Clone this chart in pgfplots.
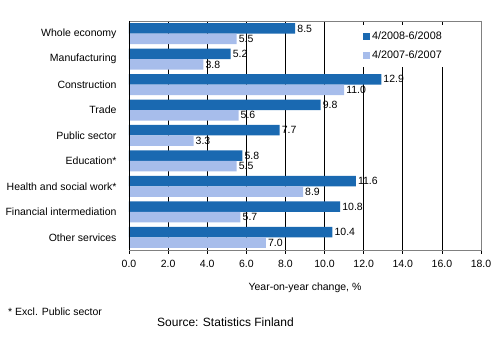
\documentclass[border=0pt]{standalone}
\usepackage{fontspec}
\setmainfont{Liberation Sans}
\usepackage{pgfplots}
\pgfplotsset{compat=1.18}
\definecolor{darkbar}{HTML}{1A69B1}
\definecolor{lightbar}{HTML}{A7BDEB}
\pgfplotsset{sqlegend/.style={legend image code/.code={\fill[##1] (0pt,-3.5pt) rectangle (7pt,3.5pt);}}}
\begin{document}
\begin{tikzpicture}[font=\fontsize{10.5}{12.5}\selectfont]
\path[use as bounding box] (-129pt,-94pt) rectangle (370pt,250pt);
\begin{axis}[
  at={(0pt,0pt)}, anchor=south west,
  scale only axis, width=352pt, height=229pt,
  xbar, bar width=10.5pt,
  xmin=0, xmax=18, ymin=-0.5, ymax=8.5, y dir=reverse,
  xtick={0,2,...,18},
  xticklabel style={yshift=-3pt, /pgf/number format/.cd, fixed, fixed zerofill, precision=1, assume math mode=true},
  ytick={0,...,8},
  yticklabels={Whole economy, Manufacturing, Construction, Trade, Public sector, Education*, Health and social work*, Financial intermediation, Other services},
  y tick label style={xshift=-5pt},
  ytick style={draw=none},
  xmajorgrids, major grid style={black, line width=0.6pt},
  tick align=outside, xtick pos=left, major tick length=4pt,
  tick style={black, line width=0.6pt},
  axis line style={gray, line width=0.6pt},
  xlabel={Year-on-year change, \%},
  xlabel style={at={(axis description cs:0.5,0)}, anchor=center, yshift=-38pt},
  nodes near coords,
  every node near coord/.append style={black, anchor=west, inner sep=2pt, font=\fontsize{10.5}{12.5}\selectfont,
    /pgf/number format/.cd, fixed, fixed zerofill, precision=1, assume math mode=true},
  legend style={at={(rel axis cs:0.656,0.983)}, anchor=north west, draw=none, fill=white,
    font=\fontsize{10.8}{12.8}\selectfont, row sep=5pt, inner xsep=3pt, inner ysep=5pt},
  legend cell align=left,
]
\addplot[fill=darkbar, draw=none, bar shift=5.25pt, sqlegend] coordinates {
  (8.5,0) (5.2,1) (12.9,2) (9.8,3) (7.7,4) (5.8,5) (11.6,6) (10.8,7) (10.4,8)};
\addlegendentry{4/2008-6/2008}
\addplot[fill=lightbar, draw=none, bar shift=-5.25pt, sqlegend] coordinates {
  (5.5,0) (3.8,1) (11.0,2) (5.6,3) (3.3,4) (5.5,5) (8.9,6) (5.7,7) (7.0,8)};
\addlegendentry{4/2007-6/2007}
\draw[black, line width=0.6pt] (axis description cs:0,1) -- (axis description cs:0,0) -- (axis description cs:1,0);
\end{axis}
\node[anchor=west, inner sep=0pt] at (-121pt,-62pt) {* Excl. Public sector};
\node[anchor=west, inner sep=0pt, font=\fontsize{12}{14}\selectfont] at (28pt,-72pt) {Source: Statistics Finland};
\end{tikzpicture}
\end{document}
